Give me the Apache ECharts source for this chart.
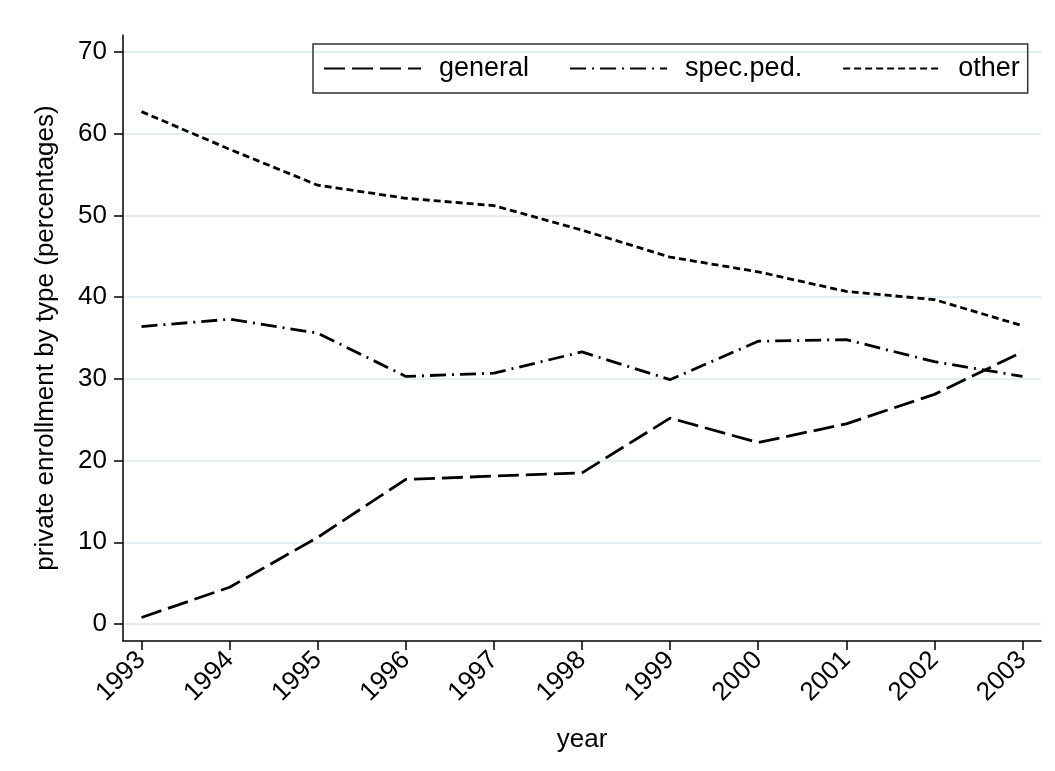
<!DOCTYPE html>
<html>
<head>
<meta charset="utf-8">
<script src="https://cdn.jsdelivr.net/npm/echarts@6/dist/echarts.min.js"></script>
<style>
html,body{margin:0;padding:0;background:#fff;}
#chart{width:1055px;height:771px;}
</style>
</head>
<body>
<div id="chart"></div>
<script>
const years = [1993, 1994, 1995, 1996, 1997, 1998, 1999, 2000, 2001, 2002, 2003];
const general = [0.8, 4.5, 10.6, 17.7, 18.1, 18.5, 25.2, 22.2, 24.5, 28.1, 33.3];
const specPed = [36.4, 37.3, 35.6, 30.3, 30.7, 33.3, 29.9, 34.6, 34.8, 32.1, 30.3];
const other = [62.7, 58.1, 53.7, 52.1, 51.2, 48.2, 44.9, 43.1, 40.7, 39.7, 36.5];
const yTicks = [0, 10, 20, 30, 40, 50, 60, 70];
const seriesNames = ['general', 'spec.ped.', 'other'];

const FONT = 'Liberation Sans';
const pair = arr => years.map((y, i) => [y, arr[i]]);

const chart = echarts.init(document.getElementById('chart'), null, {renderer: 'canvas'});
chart.setOption({
  animation: false,
  backgroundColor: '#ffffff',
  textStyle: {fontFamily: FONT, color: '#000'},
  grid: {left: 123, right: 14, top: 35, bottom: 130, containLabel: false},
  legend: {
    data: seriesNames,
    left: 313, top: 44,
    orient: 'horizontal',
    itemWidth: 97, itemHeight: 14,
    itemGap: 40,
    padding: [11, 8, 11, 10],
    borderColor: '#333', borderWidth: 1.5, borderRadius: 0,
    itemStyle: {opacity: 0},
    textStyle: {fontFamily: FONT, fontSize: 27, color: '#000', padding: [0, 0, 0, 13]}
  },
  xAxis: {
    type: 'value', min: 1992.79, max: 2003.21,
    name: 'year', nameLocation: 'middle', nameGap: 86,
    nameTextStyle: {fontFamily: FONT, fontSize: 26, color: '#000'},
    axisLine: {show: true, onZero: false, lineStyle: {color: '#000', width: 1.5}},
    axisTick: {show: true, length: 9, customValues: years, lineStyle: {color: '#000', width: 1.5}},
    axisLabel: {customValues: years, rotate: 45, margin: 15, fontFamily: FONT, fontSize: 26, color: '#000', formatter: v => String(v)},
    splitLine: {show: false}
  },
  yAxis: {
    type: 'value', min: -2.08, max: 72.08,
    name: 'private enrollment by type (percentages)', nameLocation: 'middle', nameGap: 64,
    nameTextStyle: {fontFamily: FONT, fontSize: 26, color: '#000'},
    axisLine: {show: true, onZero: false, lineStyle: {color: '#000', width: 1.5}},
    axisTick: {show: true, length: 9, customValues: yTicks, lineStyle: {color: '#000', width: 1.5}},
    axisLabel: {customValues: yTicks, margin: 16, fontFamily: FONT, fontSize: 26, color: '#000'},
    splitLine: {show: true, lineStyle: {color: '#e4eef1', width: 2}}
  },
  series: [
    {name: 'general', type: 'line', data: pair(general), symbol: 'none',
     lineStyle: {color: '#000', width: 2.8, type: [21, 7]}, itemStyle: {color: '#000'}},
    {name: 'spec.ped.', type: 'line', data: pair(specPed), symbol: 'none',
     lineStyle: {color: '#000', width: 2.8, type: [16, 6, 2, 6]}, itemStyle: {color: '#000'}},
    {name: 'other', type: 'line', data: pair(other), symbol: 'none',
     lineStyle: {color: '#000', width: 2.8, type: [7, 4]}, itemStyle: {color: '#000'}}
  ]
});
</script>
</body>
</html>
